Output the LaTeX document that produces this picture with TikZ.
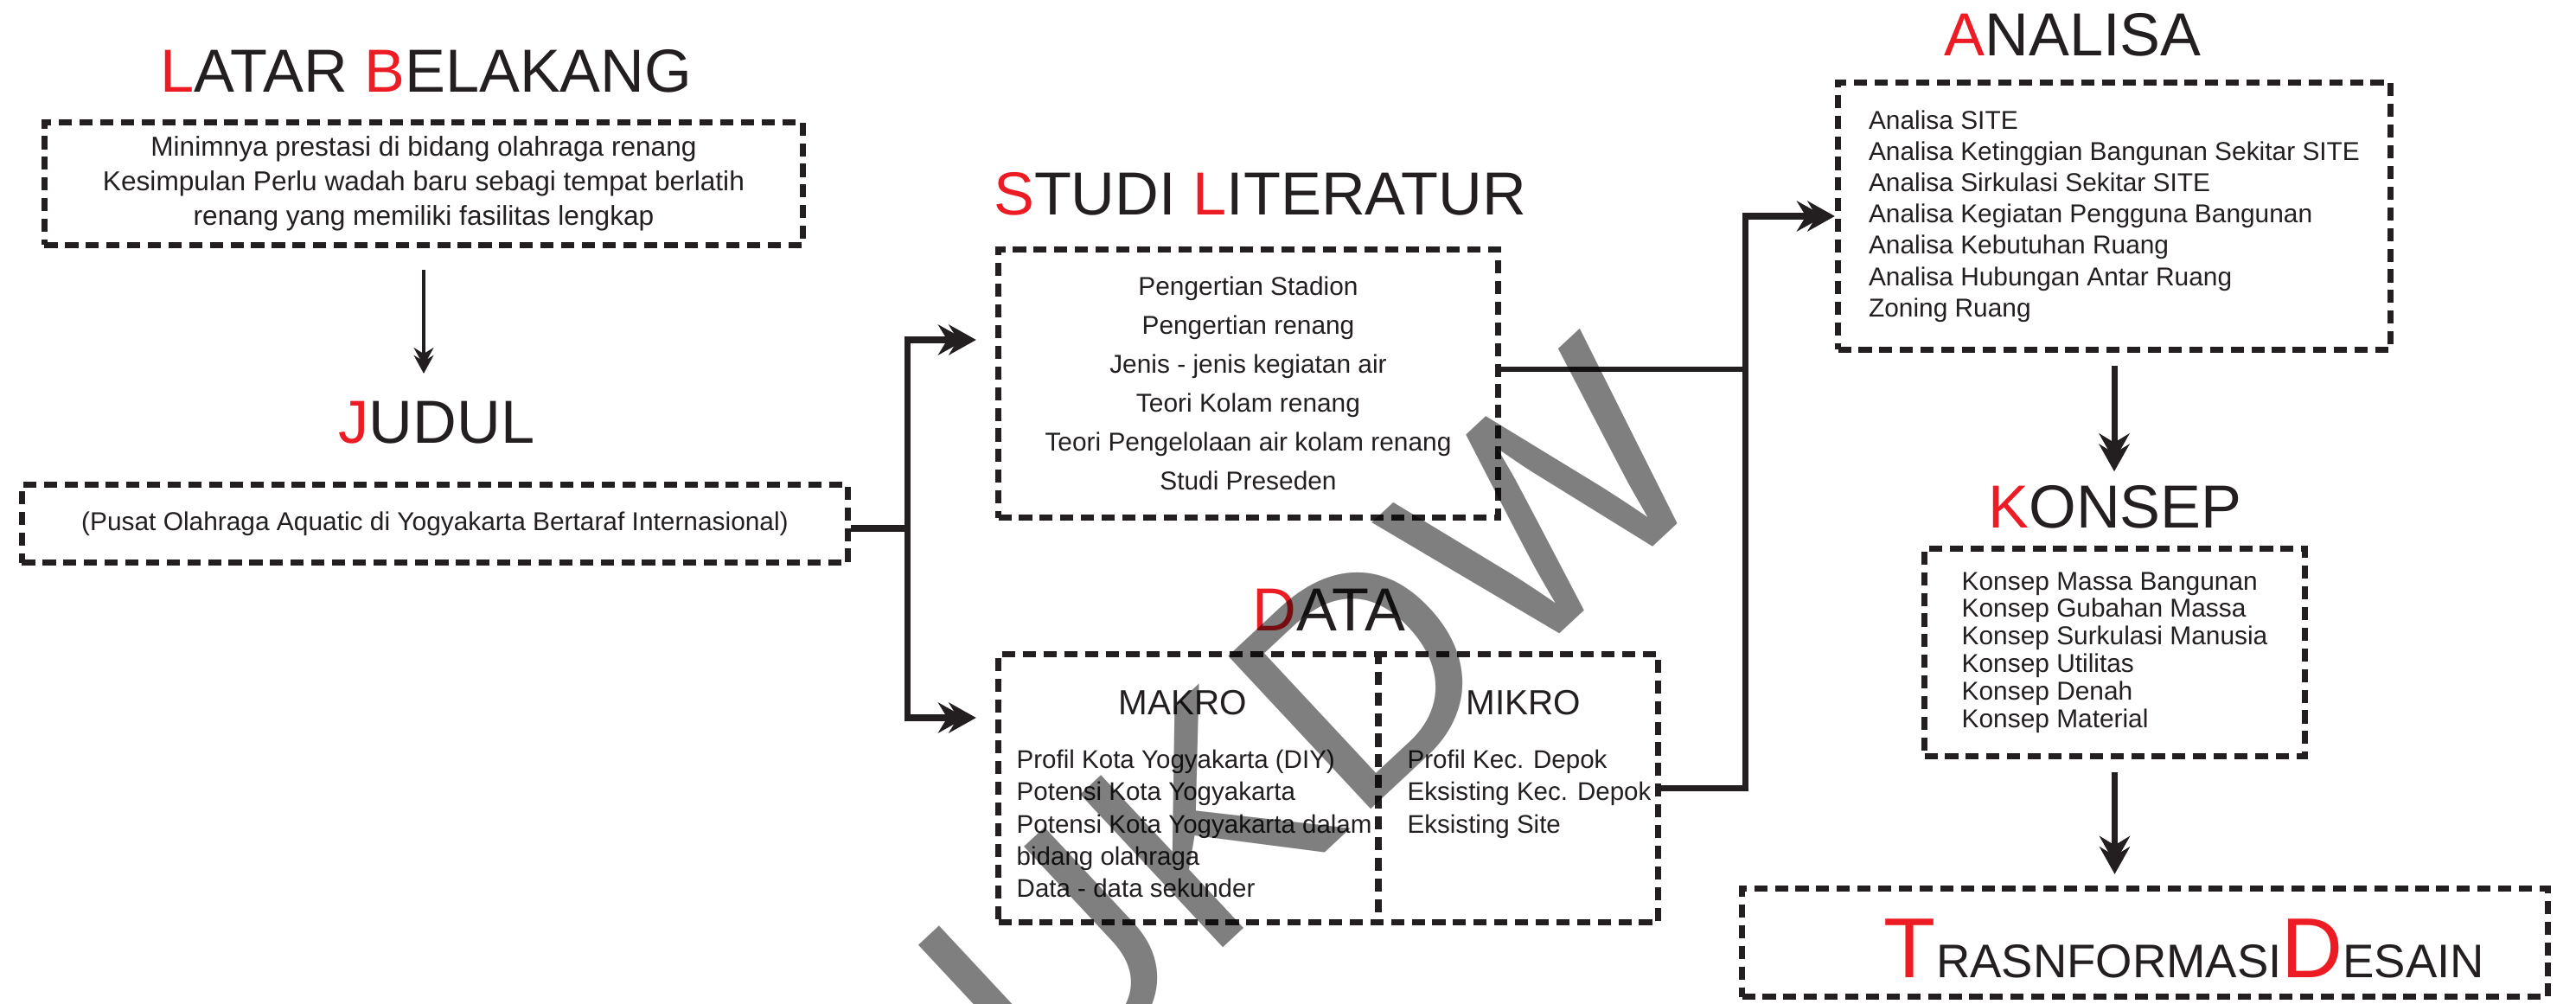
\documentclass[tikz,border=0pt]{standalone}
\usepackage{fontspec}
\setmainfont{Liberation Sans}
\usepackage{tikz}
\usetikzlibrary{arrows.meta,positioning}

\definecolor{merah}{RGB}{237,28,36}
\definecolor{hitam}{RGB}{35,31,32}
\newcommand{\huruf}[1]{{\color{merah}#1}}

\begin{document}
\begin{tikzpicture}[
    >=Stealth,
    kepala/.style={
        anchor=base,
        inner sep=0pt,
        text=hitam,
        font=\fontsize{20}{24}\selectfont
    },
    kotak/.style={
        draw=hitam,
        line width=2.1pt,
        dash pattern=on 4.3pt off 2.5pt,
        inner sep=0pt,
        text=hitam
    },
    sekat/.style={
        draw=hitam,
        line width=2.1pt,
        dash pattern=on 4.3pt off 2.5pt
    },
    isi/.style={
        inner sep=0pt,
        text=hitam,
        align=left
    },
    garis/.style={
        draw=hitam,
        line width=2pt
    },
    panah/.style={
        garis,
        -{Stealth[length=9pt,width=10pt,inset=3pt,sep=-5.5pt]Stealth[length=9pt,width=10pt,inset=3pt]}
    },
    panahtipis/.style={
        draw=hitam,
        line width=1.3pt,
        -{Stealth[length=6pt,width=6.5pt,inset=2pt,sep=-3.5pt]Stealth[length=6pt,width=6.5pt,inset=2pt]}
    },
    tandaair/.style={
        inner sep=0pt,
        text=black,
        text opacity=0.5,
        font=\fontsize{100}{100}\selectfont
    }
]
\useasboundingbox (0,0) rectangle (29.79,-11.61);

% Titles
\node[kepala] (jlatar) at (4.93,-1.07) {\huruf{L}ATAR \huruf{B}ELAKANG};
\node[kepala] (jjudul) at (5.05,-5.13) {\huruf{J}UDUL};
\node[kepala] (jstudi) at (14.57,-2.49) {\huruf{S}TUDI \huruf{L}ITERATUR};
\node[kepala] (jdata) at (15.37,-7.29) {\huruf{D}ATA};
\node[kepala] (janalisa) at (23.97,-0.65) {\huruf{A}NALISA};
\node[kepala] (jkonsep) at (24.46,-6.10) {\huruf{K}ONSEP};

% Boxes
\node[kotak, minimum width=8.77cm, minimum height=1.42cm, align=center,
      font=\fontsize{9}{11.4}\selectfont] (latar) at (4.90,-2.125)
{Minimnya prestasi di bidang olahraga renang\\
 Kesimpulan Perlu wadah baru sebagi tempat berlatih\\
 renang yang memiliki fasilitas lengkap};

\node[kotak, minimum width=9.55cm, minimum height=0.90cm,
      font=\fontsize{8.5}{10}\selectfont] (judul) at (5.03,-6.055)
{(Pusat Olahraga Aquatic di Yogyakarta Bertaraf Internasional)};

\node[kotak, minimum width=5.78cm, minimum height=3.10cm, align=center,
      font=\fontsize{8.5}{12.8}\selectfont] (studi) at (14.435,-4.435)
{Pengertian Stadion\\
 Pengertian renang\\
 Jenis - jenis kegiatan air\\
 Teori Kolam renang\\
 Teori Pengelolaan air kolam renang\\
 Studi Preseden};

\node[kotak, minimum width=7.63cm, minimum height=3.10cm] (data) at (15.36,-9.115) {};

\node[kotak, minimum width=6.39cm, minimum height=3.09cm, align=left,
      font=\fontsize{8.5}{10.3}\selectfont] (analisa) at (24.45,-2.50)
{Analisa SITE\\
 Analisa Ketinggian Bangunan Sekitar SITE\\
 Analisa Sirkulasi Sekitar SITE\\
 Analisa Kegiatan Pengguna Bangunan\\
 Analisa Kebutuhan Ruang\\
 Analisa Hubungan Antar Ruang\\
 Zoning Ruang};

\node[kotak, minimum width=4.40cm, minimum height=2.40cm, align=left,
      font=\fontsize{8.5}{9.05}\selectfont] (konsep) at (24.455,-7.545)
{Konsep Massa Bangunan\\
 Konsep Gubahan Massa\\
 Konsep Surkulasi Manusia\\
 Konsep Utilitas\\
 Konsep Denah\\
 Konsep Material};

\node[kotak, minimum width=9.32cm, minimum height=1.25cm] (desain) at (24.805,-10.90) {};
\node[anchor=base, inner sep=0pt, text=hitam] (tdesain) at (25.26,-11.30)
{{\fontsize{28}{30}\selectfont\huruf{T}}{\fontsize{15.5}{18}\selectfont RASNFORMASI}{\fontsize{28}{30}\selectfont\huruf{D}}{\fontsize{15.5}{18}\selectfont ESAIN}};

% Data: makro / mikro
\coordinate (sekat) at (15.94,-9.115);
\draw[sekat] (sekat |- data.north) -- (sekat |- data.south);
\node[isi, font=\fontsize{11.5}{13}\selectfont] (makro) at (13.68,-8.13) {MAKRO};
\node[isi, font=\fontsize{11.5}{13}\selectfont] (mikro) at (17.62,-8.13) {MIKRO};
\node[isi, anchor=north west, font=\fontsize{8.4}{10.6}\selectfont] (makroisi) at (11.75,-8.665)
{Profil Kota Yogyakarta (DIY)\\
 Potensi Kota Yogyakarta\\
 Potensi Kota Yogyakarta dalam\\
 bidang olahraga\\
 Data - data sekunder};
\node[isi, anchor=north west, font=\fontsize{8.4}{10.6}\selectfont] (mikroisi) at (16.27,-8.665)
{Profil Kec. Depok\\
 Eksisting Kec. Depok\\
 Eksisting Site};

% Connectors
\coordinate (cabang) at (10.49,-6.11);
\coordinate (gabung) at (20.18,-2.50);

\draw[panahtipis, shorten <=0.25cm, shorten >=0.32cm] (latar.south) -- (latar.south |- jjudul.north);

\draw[garis] (judul.east |- cabang) -- (cabang);
\draw[panah] (cabang) |- ([shift={(-0.22,0.505)}]studi.west);
\draw[panah] (cabang) |- ([shift={(-0.22,0.815)}]data.west);

\draw[garis, line width=1.5pt] ([yshift=0.165cm]studi.east) -- ([yshift=0.165cm]studi.east -| gabung);
\draw[panah] (data.east) -| (gabung) -- (analisa.west);

\draw[panah, shorten <=0.15cm, shorten >=0.15cm] (analisa.south) -- (analisa.south |- jkonsep.north);
\draw[panah, shorten <=0.15cm, shorten >=0.13cm] (konsep.south) -- (konsep.south |- desain.north);

% Watermark
\begin{scope}
\clip (0,0) rectangle (29.79,-11.61);
\node[tandaair, rotate=43] (ukdw) at (15.19,-8.35) {UKDW};
\end{scope}

\end{tikzpicture}
\end{document}
